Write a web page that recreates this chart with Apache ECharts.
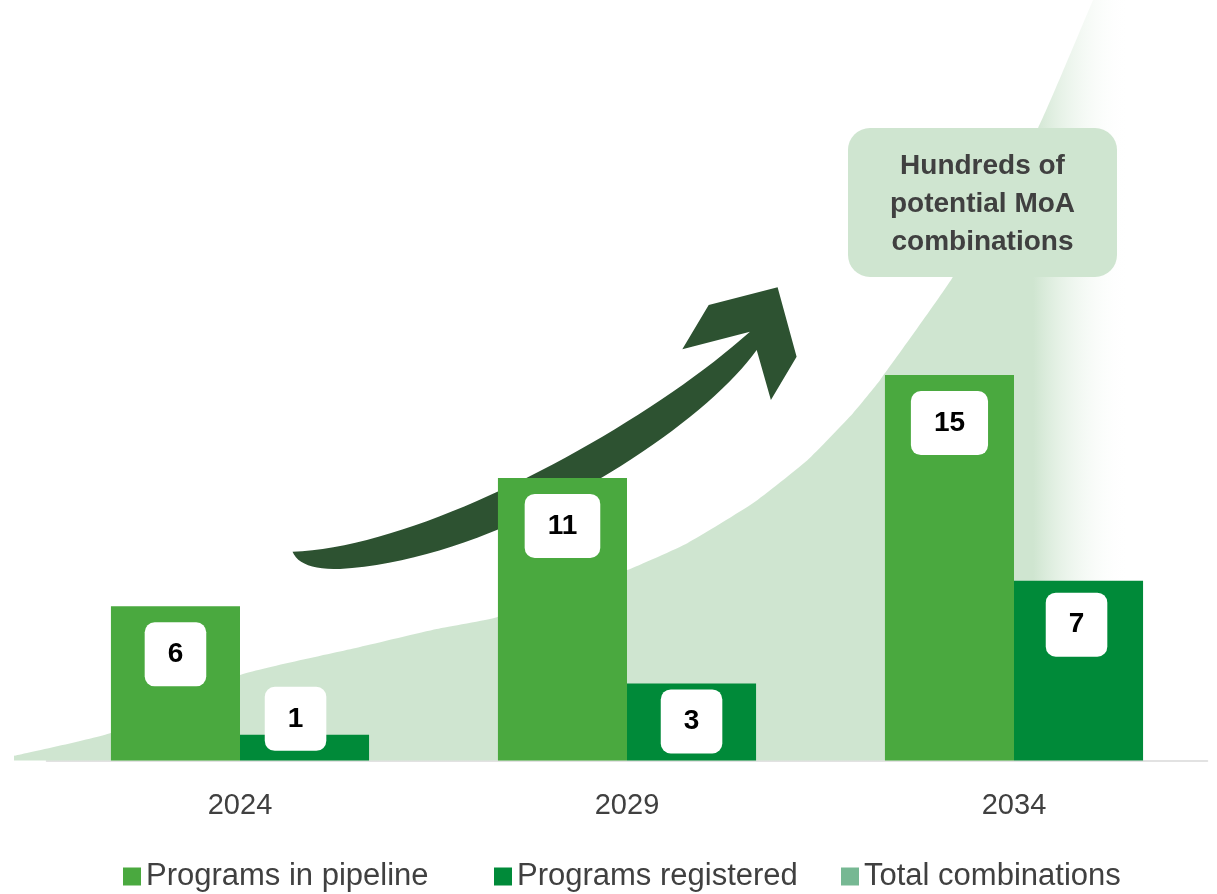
<!DOCTYPE html>
<html>
<head>
<meta charset="utf-8">
<script src="https://cdn.jsdelivr.net/npm/echarts@6/dist/echarts.min.js"></script>
<style>
  html, body { margin: 0; padding: 0; background: #ffffff; }
  #chart { width: 1217px; height: 894px; }
</style>
</head>
<body>
<div id="chart"></div>
<script>
// ---- data ----
const categories = ['2024', '2029', '2034'];
const pipeline = [6, 11, 15];
const registered = [1, 3, 7];
// Total combinations curve (on a continuous year scale)
const totalYears  = [2021.08, 2022.33, 2024.0, 2025.55, 2026.54, 2027.32, 2029.0, 2029.78, 2030.63, 2031.33, 2031.92, 2032.27, 2033.2, 2034.31, 2035.02, 2035.63];
const totalValues = [0.18,    1.07,    3.33,   4.42,    5.12,    5.58,    7.41,   8.46,    10.02,   11.69,   13.52,   14.81,   18.77,  24.61,   29.59,   33.87];
const seriesNames = ['Programs in pipeline', 'Programs registered', 'Total combinations'];
const annotationText = 'Hundreds of\npotential MoA\ncombinations';

// ---- styles ----
const FONT = "'Liberation Sans', Arial, sans-serif";
const C_PIPE = '#4aa93f';
const C_REG = '#008a39';
const C_TOTAL = '#76b893';
const C_AREA = '#cfe5d0';
const C_TEXT = '#404040';

const boxLabel = {
  show: true,
  color: '#000000',
  fontFamily: FONT,
  fontWeight: 'bold',
  fontSize: 28,
  lineHeight: 28,
  backgroundColor: '#ffffff',
  borderRadius: 10,
  padding: [18, 23]
};
const regLabelPlacement = [
  { position: 'top', distance: -16, offset: [-9, 0] },
  { position: 'insideTop', distance: 6 },
  { position: 'insideTop', distance: 12, offset: [-2, 0] }
];

// decorative arrow outline (sampled bezier curves)
function cubic(p0, p1, p2, p3, n) {
  const out = [];
  for (let i = 1; i <= n; i++) {
    const t = i / n, u = 1 - t;
    out.push([
      u*u*u*p0[0] + 3*u*u*t*p1[0] + 3*u*t*t*p2[0] + t*t*t*p3[0],
      u*u*u*p0[1] + 3*u*u*t*p1[1] + 3*u*t*t*p2[1] + t*t*t*p3[1]
    ]);
  }
  return out;
}
function quad(p0, p1, p2, n) {
  const out = [];
  for (let i = 1; i <= n; i++) {
    const t = i / n, u = 1 - t;
    out.push([u*u*p0[0] + 2*u*t*p1[0] + t*t*p2[0], u*u*p0[1] + 2*u*t*p1[1] + t*t*p2[1]]);
  }
  return out;
}
const arrowPts = [[292.5, 551.7]]
  .concat(cubic([292.5, 551.7], [420, 548], [640, 430], [750, 331.7], 40))
  .concat([[682.3, 349.3], [708.7, 305], [777.6, 287.3], [796.6, 356.7], [770.9, 400], [756.7, 350]])
  .concat(cubic([756.7, 350], [700, 430], [500, 560], [340, 569], 40))
  .concat(quad([340, 569], [300, 570], [292.5, 551.7], 12));

const chart = echarts.init(document.getElementById('chart'), null, { renderer: 'canvas' });

function legendAt(name, left) {
  return {
    data: [name],
    left: left,
    top: 856,
    icon: 'rect',
    itemWidth: 18,
    itemHeight: 18,
    textStyle: { color: C_TEXT, fontSize: 31, fontFamily: FONT, lineHeight: 31 },
    selectedMode: false
  };
}

const option = {
  animation: false,
  backgroundColor: '#ffffff',
  grid: [
    { left: 46.5, right: 9.5, top: 0, bottom: 133.5, containLabel: false },
    { left: 0, right: 9.5, top: 0, bottom: 133.5, containLabel: false }
  ],
  legend: [
    legendAt(seriesNames[0], 118),
    legendAt(seriesNames[1], 489),
    legendAt(seriesNames[2], 836)
  ],
  xAxis: [
    {
      type: 'category',
      gridIndex: 0,
      data: categories,
      axisTick: { show: false },
      axisLine: { show: true, lineStyle: { color: '#d9d9d9', width: 1.5 } },
      axisLabel: { color: C_TEXT, fontSize: 29, fontFamily: FONT, margin: 31 },
      splitLine: { show: false }
    },
    {
      type: 'value',
      gridIndex: 1,
      min: 2020.899,
      max: 2036.5,
      show: false,
      splitLine: { show: false }
    }
  ],
  yAxis: [
    { type: 'value', gridIndex: 0, min: 0, max: 29.6, show: false, splitLine: { show: false } },
    { type: 'value', gridIndex: 1, min: 0, max: 29.6, show: false, splitLine: { show: false } }
  ],
  series: [
    {
      name: seriesNames[2],
      type: 'line',
      xAxisIndex: 1,
      yAxisIndex: 1,
      z: 1,
      clip: false,
      smooth: 0.15,
      symbol: 'none',
      itemStyle: { color: C_TOTAL },
      lineStyle: { width: 0, opacity: 0 },
      areaStyle: {
        opacity: 1,
        color: {
          type: 'linear', x: 0, y: 0, x2: 1, y2: 0,
          colorStops: [
            { offset: 0, color: C_AREA },
            { offset: 0.905, color: C_AREA },
            { offset: 0.99, color: 'rgba(255,255,255,0)' },
            { offset: 1, color: 'rgba(255,255,255,0)' }
          ]
        }
      },
      data: totalYears.map((y, i) => [y, totalValues[i]])
    },
    {
      name: seriesNames[0],
      type: 'bar',
      xAxisIndex: 0,
      yAxisIndex: 0,
      z: 3,
      barGap: 0,
      barCategoryGap: '33.3%',
      itemStyle: { color: C_PIPE },
      label: Object.assign({}, boxLabel, { position: 'insideTop', distance: 16 }),
      data: pipeline
    },
    {
      name: seriesNames[1],
      type: 'bar',
      xAxisIndex: 0,
      yAxisIndex: 0,
      z: 3,
      barGap: 0,
      barCategoryGap: '33.3%',
      itemStyle: { color: C_REG },
      label: Object.assign({}, boxLabel, { position: 'insideTop', distance: 8 }),
      data: registered.map((v, i) => ({ value: v, label: regLabelPlacement[i] }))
    }
  ],
  graphic: [
    {
      type: 'polygon',
      z: 2,
      silent: true,
      shape: { points: arrowPts },
      style: { fill: '#2d5231' }
    },
    {
      type: 'rect',
      z: 2,
      silent: true,
      shape: { x: 848, y: 128, width: 269, height: 149, r: 22 },
      style: { fill: C_AREA }
    },
    {
      type: 'text',
      z: 3,
      silent: true,
      x: 982.5,
      y: 204,
      style: {
        text: annotationText,
        fill: C_TEXT,
        fontFamily: FONT,
        fontWeight: 'bold',
        fontSize: 28,
        lineHeight: 38,
        align: 'center',
        verticalAlign: 'middle'
      }
    }
  ]
};

chart.setOption(option);
</script>
</body>
</html>
